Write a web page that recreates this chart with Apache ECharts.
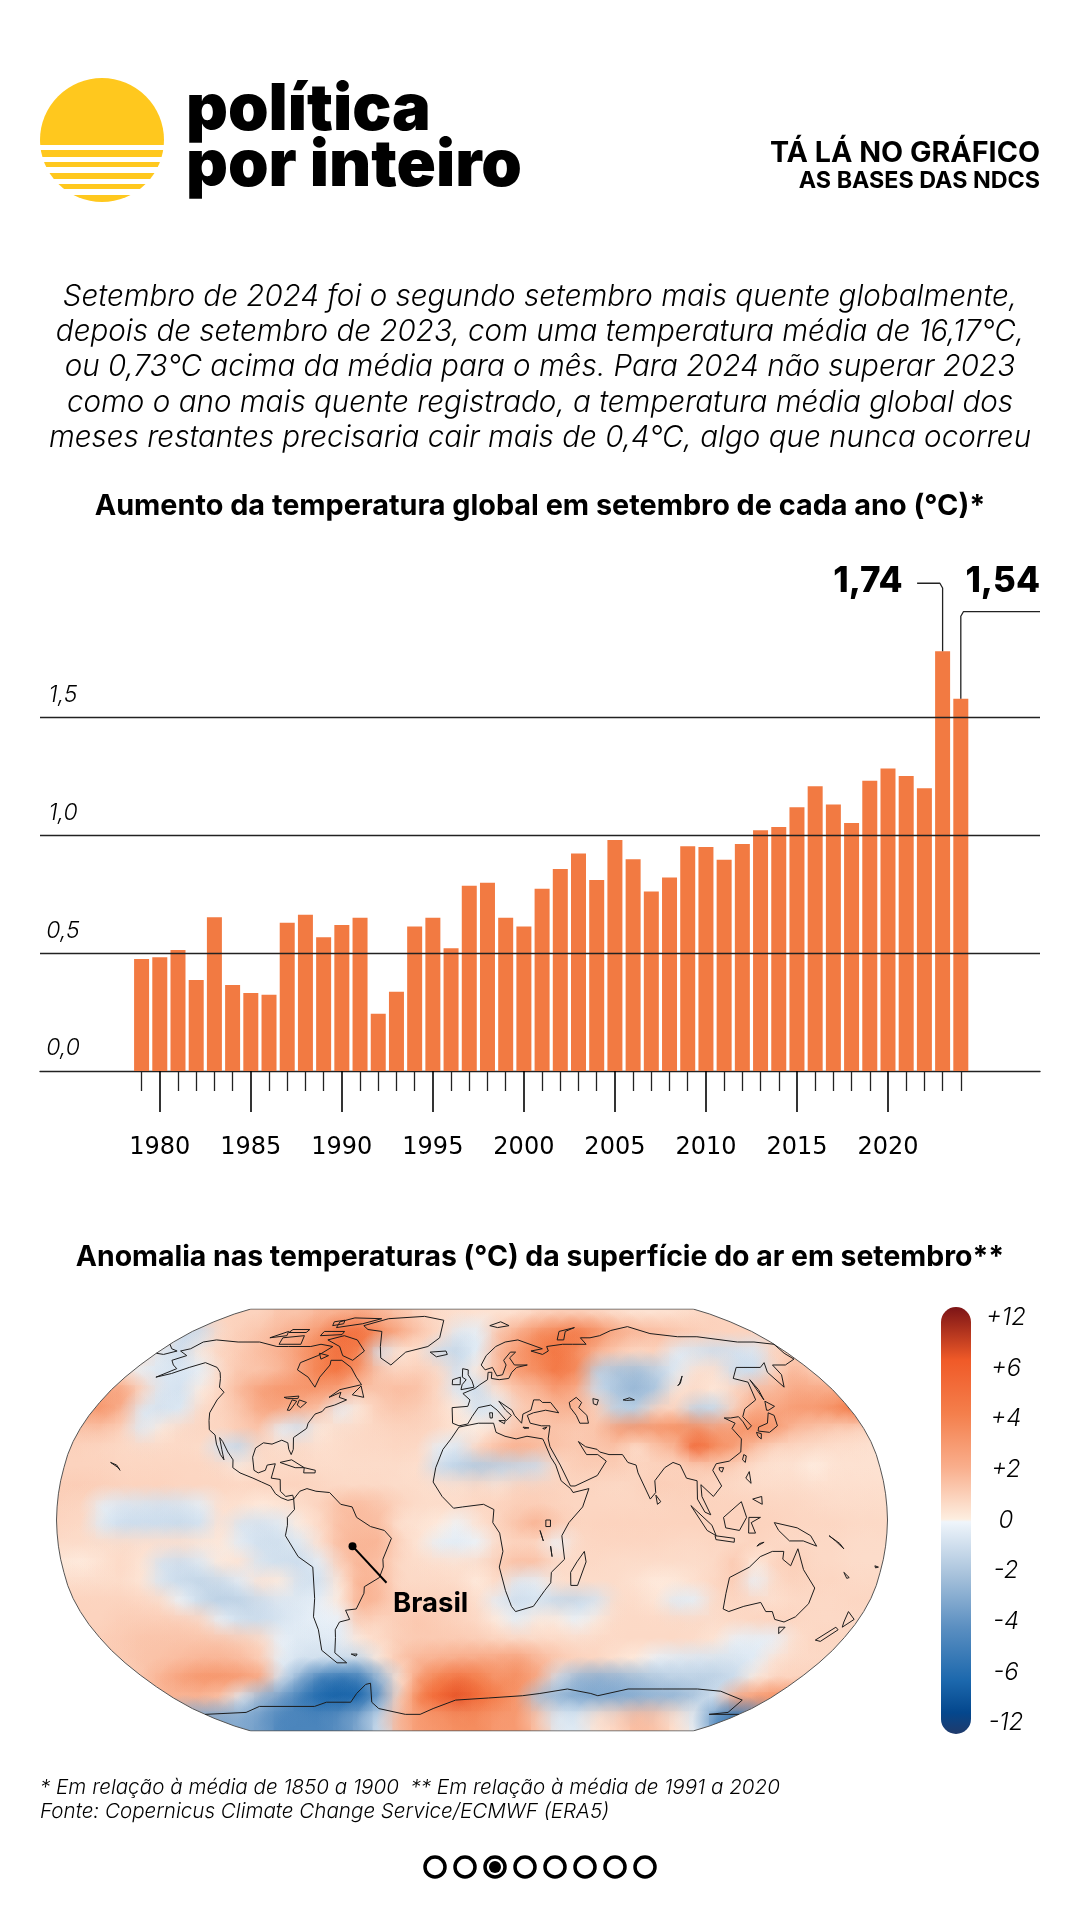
<!DOCTYPE html>
<html><head><meta charset="utf-8">
<style>html,body{margin:0;padding:0;background:#fff}#c{width:1080px;height:1920px}</style>
<script src="https://cdn.jsdelivr.net/npm/echarts@6/dist/echarts.min.js"></script>
</head><body><div id="c"></div>
<script>
// ---------- DATA ----------
const years = [1979,1980,1981,1982,1983,1984,1985,1986,1987,1988,1989,1990,1991,1992,1993,1994,1995,1996,1997,1998,1999,2000,2001,2002,2003,2004,2005,2006,2007,2008,2009,2010,2011,2012,2013,2014,2015,2016,2017,2018,2019,2020,2021,2022,2023,2024];
const anomalies = [.475,.483,.514,.386,.653,.365,.331,.324,.629,.663,.568,.620,.650,.243,.336,.613,.650,.521,.786,.799,.650,.613,.773,.857,.923,.811,.980,.899,.762,.821,.954,.951,.897,.963,1.022,1.036,1.119,1.209,1.131,1.053,1.232,1.284,1.252,1.200,1.782,1.580];
const yTicks = [0,0.5,1,1.5];
const highlightLabels = ['1,74','1,54'];
const headerLines = ['TÁ LÁ NO GRÁFICO','AS BASES DAS NDCS'];
const logoLines = ['política','por inteiro'];
const bodyLines = ['Setembro de 2024 foi o segundo setembro mais quente globalmente,','depois de setembro de 2023, com uma temperatura média de 16,17°C,','ou 0,73°C acima da média para o mês. Para 2024 não superar 2023','como o ano mais quente registrado, a temperatura média global dos','meses restantes precisaria cair mais de 0,4°C, algo que nunca ocorreu'];
const chartTitle = 'Aumento da temperatura global em setembro de cada ano (°C)*';
const mapTitle = 'Anomalia nas temperaturas (°C) da superfície do ar em setembro**';
const footLines = ['* Em relação à média de 1850 a 1900  ** Em relação à média de 1991 a 2020','Fonte: Copernicus Climate Change Service/ECMWF (ERA5)'];
const legendLabels = ['+12','+6','+4','+2','0','-2','-4','-6','-12'];
const callout2023 = [[2021.6,2.07],[2022.85,2.07],[2023,2.05],[2023,1.782]];
const callout2024 = [[2028.35,1.95],[2024.15,1.95],[2024,1.93],[2024,1.58]];
const colorValues = [-12,-9,-6,-4,-2,-0.001,0.001,2,4,6,9,12];
const colorStops = ['#1f3a6b','#04478d','#1c68ad','#5b8fc1','#a9c3dc','#eff5fb','#fef1e6','#f9b596','#f47f4c','#f05a28','#b02a20','#7c1416'];
// anomaly field, 42 columns x 22 rows, north to south
const row0=[1,1,1,1,1,1,1,1,1,1,1,1.5,1.5,2,2.2,2.5,2,1.5,1,.7,.6,.5,.5,.6,1,1.2,1.2,1,.7,.5,.5,.6,.8,1,1,1,1,1,1,1,1,1];
const row1=[.8,.8,.8,.8,.8,.8,-1,-1,.8,1.2,1.5,2,2.5,3.2,4.8,5,3.5,2.5,1.5,.8,-.5,-.3,1.5,2.5,3.5,4,4.5,3.5,2.5,2,1.8,1.5,1.2,1,1,1,1,1,1,1,1,1];
const row2=[.5,.5,.5,.5,.8,-.5,-1,.3,1,1.3,1.8,2.2,3,4,4.8,3.8,-.8,.4,.6,-1,-1.2,-.3,2,3,4,4.5,3.5,2,1.2,.8,1,-.4,-.7,-1,-.8,-.6,1,1.2,1,1,1,1];
const row3=[.5,.5,.5,.3,-.3,-.6,-.6,-.3,.8,1.5,1.5,2,2.8,4,4.5,3,1.5,1,1.2,.8,-.8,.3,2,3,3.5,4.5,3.5,-1.5,-2,-2.2,-1.5,-.5,.6,.6,-1,-1,1,2,1.2,1,1,1];
const row4=[1,1.5,2.5,2.8,1,-.6,-.8,.2,1,2,2.8,3.2,3.2,3,2.5,1.5,1.5,1.8,1.6,.8,-.6,-1,.5,1.5,2,3,2.2,-1,-2,-2.5,-1.8,.5,.8,.3,1,1.8,2,2.5,2.5,2.5,3,3];
const row5=[2,3,3.2,2,-.5,-.8,-.5,.8,1,1.5,2.5,2.5,2,1.5,-.3,.3,1.2,1.4,1.2,.8,.2,-.8,-.5,1.2,1.5,2,2,1.2,-1.5,-1.5,1,1,-1.5,-1.2,1.2,2.5,2.5,3,3,3.5,4.5,4.5];
const row6=[1.5,1.5,1.5,1,-.5,.3,.8,.9,.9,1.3,1.5,-.3,-.8,.3,.7,.8,.9,1,1,.8,.4,.1,.8,1.5,1.5,1.5,1.3,1.5,2.8,3.2,3.2,3.5,3.5,2.8,3,3.5,3,1.8,1.5,1.2,1,.8];
const row7=[1,1,.9,.8,.8,.8,.8,.7,-.8,-1.2,.8,.7,.8,.6,.7,.8,.8,.9,.8,-.3,-.6,1,1.8,2.2,1.8,1.5,1.3,1.5,1.5,.5,1.5,2,5.5,3.5,2.8,1.5,.8,.8,.7,.6,.6,.5];
const row8=[1,1,1,.9,.9,.9,.9,.9,.8,.3,.8,.8,.8,.7,.7,.7,.7,.7,.6,-1,-1.5,-1.8,-1.5,-1.2,-1,.8,1.2,1.2,1.2,1,1,1,1.2,1.2,1,.6,.5,.5,.1,.5,.5,.5];
const row9=[1.2,1.2,1.1,1,1,1,.9,.9,.9,.9,.9,1,1,.9,.8,.8,.8,.7,.7,.6,.6,.8,.5,1,1,1,.9,.9,.8,.9,1.2,1.1,1.1,.9,.8,.7,.7,.7,.6,.6,.6,.6];
const row10=[1,.9,-.3,-.6,-.7,-.8,-.7,-.3,.6,.5,.2,.4,.7,1,1.7,1.8,1.5,1,.7,.7,.7,.9,1,1.2,1.2,1,.9,.9,.9,.9,.9,1,1,1,1,1,.9,.9,.8,.7,.7,.7];
const row11=[.9,.8,-.5,-1,-1,-1,-1.1,-.8,.5,-.7,-.8,-.5,.2,.8,1.7,1.8,1.7,.5,.5,.2,-.1,.5,1,1.6,2.2,1.3,.9,1,1,1,1,1,1,1,1,1,1,.9,.9,.9,.8,.8];
const row12=[.7,.7,.7,.7,.6,.6,.6,.4,.3,-.4,-.9,-.9,-.5,.6,1.8,2,2,1,.4,-.3,-.4,-.1,.8,1,.8,-.1,.8,.9,.9,.9,.9,.8,.8,.9,.8,1,.8,.8,.8,.8,.7,.7];
const row13=[.3,.2,.5,.8,.4,-.8,-1,-.5,.3,.5,-.7,-.9,-1,-.3,1.2,2,1.6,.8,.7,.6,.5,.7,1.2,1.7,1.6,.8,.8,.8,.7,.7,.7,.7,.7,.8,1.4,.2,1,1.2,.8,.8,.7,.7];
const row14=[.7,.7,.7,.7,.4,-.7,-1.1,-1.3,-1.1,-.4,.5,.2,-.8,-.8,.4,2.2,1.8,.8,.8,.8,.7,.2,.8,-.5,-.3,.6,.7,.7,.7,.5,.2,.3,.6,.9,1.2,-.2,.8,1,.9,.9,.8,.8];
const row15=[1,1,1,1,.9,.7,-.1,-1.1,-1.5,-1.4,-1,-.6,-.5,-.2,.3,2.2,1.8,1,1,1,1,.6,-.4,-1,-.7,-1.2,-1.2,-.7,.7,.7,.4,-.5,-.3,.8,.9,.8,.6,.8,.8,.8,.9,.9];
const row16=[1,1,1,1.2,1.2,1.2,1.2,.9,-.2,-.9,-1,-.7,-.4,-.2,-.2,1.3,.9,1.2,1.4,1.2,1,.8,.2,-.3,.3,.2,-.1,.3,.8,.8,.8,.8,.8,.7,.8,.9,1,.9,.8,.8,.8,.8];
const row17=[1,1,1.2,1.3,1.5,1.5,1.5,1.5,1.5,1.2,.8,-.2,-.5,-.5,-.4,.3,.8,1.2,1.3,1.3,1.3,1.2,1,.9,.8,.8,.7,.8,.8,.8,.8,.8,.7,.4,-.2,-.3,-.2,.6,.9,.9,.9,.9];
const row18=[1,1,1.2,1.3,1.5,1.6,1.8,2,2,1.8,1.2,-.3,-.8,-.9,-1,-1.2,.3,1.5,2,2.2,2.4,2.5,2.6,2.8,2,1.4,1,.9,.5,.2,-.2,-.5,-.6,-.7,-.7,-.4,.5,.8,.8,.8,.8,.8];
const row19=[1,1,1,1,1.5,2.2,2.8,3.2,3.2,3,2.5,-.8,-3,-5,-5.5,-5,-2.5,.5,3,4,4.8,4,3.2,3.5,2.5,-1,-2.5,-2.8,-2.6,-2.2,-1.8,-1.5,-1.5,-1.5,-1,.3,1,1,1,1,1,1];
const row20=[1,1,1,1,1.5,2,2,2,1.5,-.5,-2.5,-3.5,-5,-6,-6.5,-6,-3.5,1,4,5.5,6.5,5,4,3,-2,-2.5,-3,-3,-3,-2.8,-2.5,-2.5,-1.8,-.8,2.5,3,3.5,3,3,3,3,3];
const row21=[-3,-3,-3,-3,-3,-3,-3,-3,-3,-3,-3.5,-4.5,-4.5,-4.5,-4,-3,-1,2,3,3.2,3.5,3.5,3,3,1.5,-.5,-.5,.5,1,1.8,1.5,.5,-.5,-4,-5.5,-4,1,1,1,1,1,1];
const anomalyRows=[row0,row1,row2,row3,row4,row5,row6,row7,row8,row9,row10,row11,row12,row13,row14,row15,row16,row17,row18,row19,row20,row21];
// coastlines as [lon,lat]
const coastNorthAmerica=[[-168,66],[-164,67],[-162,70],[-156,71],[-141,70],[-128,70],[-115,68],[-108,68],[-95,68],[-90,69],[-82,68],[-87,64],[-94,61],[-93,58],[-85,55],[-82,53],[-79,51],[-79,55],[-77,60],[-78,62],[-72,62],[-65,59],[-60,55],[-56,52],[-66,50],[-70,47],[-65,49],[-65,47],[-61,46],[-66,44],[-70,43],[-71,41.5],[-74,40.5],[-76,37],[-76,35],[-81,31.5],[-80,27],[-80.5,25],[-82,27],[-83,29.5],[-86,30.5],[-90,29],[-94,29.5],[-97,27.5],[-97.5,24],[-96,19],[-94,18],[-91,19],[-90.5,21],[-87,21.5],[-88,16],[-84,15.5],[-83.5,11],[-81,9],[-78,9.5],[-77.5,8],[-80,7.5],[-83,8.5],[-85.5,10],[-88,13],[-92,14.5],[-96,16],[-102,18],[-105.5,20],[-106,23],[-109,26],[-112.5,30],[-114.5,31.5],[-112,27],[-110,23],[-112,25],[-115,29],[-117,32.5],[-120.5,34.5],[-122.5,38],[-124,41],[-124,46],[-123,49],[-127,51],[-130,54.5],[-133,57],[-137,59],[-146,61],[-152,59],[-158,56.5],[-164,55],[-158,58.5],[-162,60],[-166,62],[-161,64],[-168,66]];
const coastSouthAmerica=[[-77.5,8],[-75,11],[-72,12],[-68,11],[-62,10.5],[-57,6],[-52,5],[-50,1],[-44,-2.5],[-38,-4],[-35,-7],[-39,-15],[-39,-18],[-41,-22],[-48,-25.5],[-48.5,-28],[-53,-34],[-58,-34.5],[-57,-38],[-62,-39],[-65,-42],[-66,-45],[-69,-51],[-65,-55],[-70,-55],[-75,-50],[-73,-42],[-73.5,-37],[-71,-30],[-70,-18],[-76,-14],[-81,-6],[-80,-2],[-80,1],[-77,4],[-77.5,8]];
const coastAfrica=[[-6,35.5],[3,37],[10,37],[11,33.5],[15,32],[20,31],[25,32],[32,31],[32.5,30],[35,24],[37,21],[39,15],[43,12],[44,10.5],[51,12],[48,5],[42,-1],[39,-6],[40.5,-15],[35,-20],[35,-24],[32.5,-27],[28,-33],[20,-35],[18,-33],[15,-27],[12,-18],[13.5,-12],[12,-5],[9,-1],[9.5,4],[5,6],[-4,5],[-8,4.5],[-13,9],[-17,14.5],[-16,20],[-13,27],[-9.5,31],[-6,35.5]];
const coastEurasia=[[-6,36],[-9,37],[-9.5,43],[-2,43.5],[-1,46],[-4.5,48.5],[1.5,50.5],[4,52],[8,54],[8.5,57],[10.5,57],[10,54.5],[14,54],[19,54.5],[21,57],[24,59],[30,60],[23,60],[21,63],[25,65.5],[22,65.5],[17.5,62],[18.5,60],[16,56],[13,55.5],[11,59],[7,58],[5,60],[8,64],[14,68],[20,70],[28,71],[41,67],[34,66],[40,64.5],[44,66],[44,68],[54,69],[60,69],[68,69],[67,72],[73,72],[80,73],[90,75.5],[104,77.5],[113,74],[128,72.5],[140,72.5],[160,70],[170,70],[180,69],[178,65],[179,62.5],[170,60],[163,60],[162,56],[157,51],[156,57],[160,61],[155,59],[142,59],[135,54.5],[141,53],[138,46],[130,42.5],[127,39.5],[129,36],[126.5,34.5],[126,37.5],[125,39.5],[121,39],[118,39],[122,37],[119.5,35],[122,31],[120,26],[114,22.5],[108,21.5],[106,19],[109,13],[105,9],[100,13.5],[100,9],[103.5,2],[101,3],[98,8],[98.5,15],[94,16],[92,21],[89,22],[85,20],[80,15],[80,10.5],[77.5,8],[73,18],[72.5,21],[69,22],[67,25],[61,25],[57,26],[56,27],[51,28],[48,30],[51,25],[56,25],[59.5,22.5],[55,17],[45,13],[43,13],[39,21],[35,28],[34.5,31],[36,36],[32,36],[27,37],[26,40],[29,41],[35,42],[41,41],[38,45],[34,45],[33,46],[30,46],[28,42],[24,40.5],[23,37],[20,40],[19,42],[13,45.5],[16,42],[18.5,40],[16,38],[12,42],[9,44],[3,43],[0,39.5],[-2,36.7],[-6,36]];
const coastChukotka=[[-180,69],[-175,67],[-170,66],[-175,64.5],[-180,65]];
const coastCaspian=[[47,45],[51,47],[53,45],[51,43],[54,40],[54,37],[50,37],[49,40],[47,43],[47,45]];
const coastGreenland=[[-73,78],[-60,82],[-35,83.5],[-20,81],[-20,72],[-26,68],[-38,65.5],[-44,60],[-51,63],[-54,68],[-58,75],[-68,76],[-73,78]];
const coastBaffin=[[-80,73],[-70,71],[-62,66],[-66,62],[-73,64],[-78,68],[-88,71],[-80,73]];
const coastVictoria=[[-117,72],[-105,73],[-102,69],[-115,69],[-117,72]];
const coastBanks=[[-125,72],[-118,75],[-116,73],[-125,72]];
const coastEllesmere=[[-90,77],[-75,79],[-65,82],[-85,82.5],[-92,80],[-90,77]];
const coastDevon=[[-95,75],[-82,75],[-82,73.5],[-95,73],[-95,75]];
const coastMelville=[[-117,76],[-106,76],[-106,74.5],[-117,74.5],[-117,76]];
const coastAxelHeiberg=[[-96,80],[-90,81],[-88,79],[-94,78],[-96,80]];
const coastSouthampton=[[-87,65],[-81,64],[-84,62.5],[-87,65]];
const coastNewfoundland=[[-59,48],[-56,51.5],[-53,47],[-59,48]];
const coastCuba=[[-85,22],[-80,23],[-74,20],[-78,20],[-85,22]];
const coastHispaniola=[[-74,20],[-69,19],[-69,18],[-74,18],[-74,20]];
const coastIceland=[[-24,65.5],[-15,66],[-14,64.5],[-20,63.5],[-24,65.5]];
const coastBritain=[[-5.5,50],[1,51],[0,53.5],[-2,56],[-2,58],[-5,58.5],[-5,55],[-3,54],[-5,52],[-5.5,50]];
const coastIreland=[[-10,52],[-6,52],[-6,55],[-10,54],[-10,52]];
const coastSvalbard=[[12,78],[20,80],[25,78],[17,77],[12,78]];
const coastNovaya=[[52,71],[56,75],[68,77],[60,75],[56,71],[52,71]];
const coastHonshu=[[131,34],[136,33.5],[141,36],[142,40],[140,41],[137,37],[132,35.5],[131,34]];
const coastHokkaido=[[140,42],[142,45.5],[145,43.5],[141,42],[140,42]];
const coastKyushu=[[130,33.5],[132,33],[131,31],[130,32],[130,33.5]];
const coastSakhalin=[[142,46],[143,50],[143,54],[142,54],[142,46]];
const coastTaiwan=[[121,25],[122,24.5],[121,22],[120,23],[121,25]];
const coastHainan=[[109,20],[111,20],[110,18.3],[109,19],[109,20]];
const coastLuzon=[[120,16],[122,18.5],[122,14],[120,16]];
const coastMindanao=[[122,8],[126,9],[126,6],[122,8]];
const coastSumatra=[[95,5.5],[104,-2],[106,-6],[102,-4],[95,5.5]];
const coastJava=[[105.5,-6],[114,-7],[114,-8.5],[106,-7.5],[105.5,-6]];
const coastTimor=[[124,-10],[127,-8.5],[125,-9],[124,-10]];
const coastBorneo=[[109,1],[117,7],[119,1],[116,-4],[110,-3],[109,1]];
const coastSulawesi=[[120,1],[125,1],[121,-1],[123,-5],[120,-5],[120,1]];
const coastNewGuinea=[[131,-1],[141,-3],[147,-6],[150,-10],[144,-8],[138,-8],[133,-4],[131,-1]];
const coastSolomon=[[155,-6],[160,-9],[162,-11],[158,-8],[155,-6]];
const coastCaledonia=[[164,-20],[167,-22],[166,-22.3],[164,-20]];
const coastFiji=[[177,-17.5],[178.7,-18],[177.5,-18.3],[177,-17.5]];
const coastSriLanka=[[80,9.5],[82,7],[80.5,6],[80,9.5]];
const coastMadagascar=[[49,-12],[50,-16],[47,-25],[44,-25],[43.5,-20],[46,-16],[49,-12]];
const coastAustralia=[[114,-22],[122,-18],[126,-14],[131,-12],[136,-12],[136,-15],[140,-17.5],[142,-11],[146,-19],[153,-26],[153,-32],[150,-37],[146,-39],[141,-38],[138,-35],[135,-35],[131,-31.5],[124,-33],[118,-35],[115,-34],[114,-28],[114,-22]];
const coastTasmania=[[145,-41],[148,-41],[147,-43.5],[145,-41]];
const coastNZNorth=[[173,-35],[178,-38],[175,-41],[174,-39],[173,-35]];
const coastNZSouth=[[172,-41],[174,-42],[170,-46.5],[167,-46],[172,-41]];
const coastFalklands=[[-61,-51.5],[-58,-51.5],[-59,-52.3],[-61,-51.5]];
const coastAntarctica=[[-180,-78],[-150,-77],[-135,-74],[-120,-74],[-100,-74],[-90,-72],[-75,-72],[-68,-68],[-60,-64],[-57,-63.5],[-62,-72],[-60,-75],[-45,-78],[-35,-78],[-25,-75],[-10,-71],[10,-70],[30,-69],[40,-68],[55,-66],[70,-68],[75,-69],[90,-66],[110,-66],[130,-66],[145,-67],[165,-71],[170,-77],[160,-78],[180,-78]];
const coastSuperior=[[-92,47],[-85,47.5],[-85,46.5],[-90,46.5],[-92,47]];
const coastMichigan=[[-87.5,46],[-85,45.5],[-86.5,42],[-87.8,42],[-87.5,46]];
const coastHuron=[[-84,46],[-80,45],[-82,43],[-84,44],[-84,46]];
const coastAral=[[59,46.5],[61.5,46],[60,44],[58.5,44.5],[59,46.5]];
const coastBalkhash=[[73.5,46],[77,46.8],[79,46],[75,45.8],[73.5,46]];
const coastBaikal=[[104,51.7],[106,52.5],[109.5,55.5],[109,55],[105,52],[104,51.7]];
const coastVictoriaLake=[[32,0],[34,0],[34,-2.5],[32,-2.5],[32,0]];
const coastTanganyika=[[29.5,-4],[30,-4],[31,-8],[30.5,-8],[29.5,-4]];
const coastMalawi=[[34.2,-10],[34.8,-10],[35,-14],[34.4,-14],[34.2,-10]];
const coastHawaii=[[-160,22],[-157,21],[-155,19],[-156,20],[-160,22]];
const coastSardinia=[[8.3,41],[9.7,41],[9.5,39],[8.5,39],[8.3,41]];
const coastSicily=[[12.5,38],[15.5,38],[15,36.8],[12.5,38]];
const coastCrete=[[23.5,35.5],[26.2,35.2],[24,35],[23.5,35.5]];
const coastCyprus=[[32.5,35],[34.5,35.5],[33.5,34.7],[32.5,35]];
const coastRings=[coastNorthAmerica,coastSouthAmerica,coastAfrica,coastEurasia,coastChukotka,coastCaspian,coastGreenland,coastBaffin,coastVictoria,coastBanks,coastEllesmere,coastDevon,coastMelville,coastAxelHeiberg,coastSouthampton,coastNewfoundland,coastCuba,coastHispaniola,coastIceland,coastBritain,coastIreland,coastSvalbard,coastNovaya,coastHonshu,coastHokkaido,coastKyushu,coastSakhalin,coastTaiwan,coastHainan,coastLuzon,coastMindanao,coastSumatra,coastJava,coastTimor,coastBorneo,coastSulawesi,coastNewGuinea,coastSolomon,coastCaledonia,coastFiji,coastSriLanka,coastMadagascar,coastAustralia,coastTasmania,coastNZNorth,coastNZSouth,coastFalklands,coastAntarctica,coastSuperior,coastMichigan,coastHuron,coastAral,coastBalkhash,coastBaikal,coastVictoriaLake,coastTanganyika,coastMalawi,coastHawaii,coastSardinia,coastSicily,coastCrete,coastCyprus];
const brasilLeader=[[-52,-10],[-38,-24]];
const brasilLabel='Brasil';
const pageCount=8, pageActive=2;
// Robinson projection table (5 degree steps)
const robX=[1,.9986,.9954,.99,.9822,.973,.96,.9427,.9216,.8962,.8679,.835,.7986,.7597,.7186,.6732,.6213,.5722,.5322];
const robY=[0,.062,.124,.186,.248,.31,.372,.434,.4958,.5571,.6176,.6769,.7346,.7903,.8435,.8936,.9394,.9761,1];
// ---------- HELPERS ----------
function project(lon,lat){
  const a=Math.min(Math.abs(lat)/5,17.999), i=Math.floor(a), f=a-i;
  const px=robX[i]+(robX[i+1]-robX[i])*f, py=robY[i]+(robY[i+1]-robY[i])*f;
  return [px*lon/180, (lat<0?-1:1)*py];
}
function hex(c){return [parseInt(c.slice(1,3),16),parseInt(c.slice(3,5),16),parseInt(c.slice(5,7),16)];}
function colorOf(v){
  v=Math.max(-12,Math.min(12,v));
  let i=0; while(i<colorValues.length-2&&v>colorValues[i+1])i++;
  const f=(v-colorValues[i])/(colorValues[i+1]-colorValues[i]);
  const a=hex(colorStops[i]),b=hex(colorStops[i+1]);
  return [0,1,2].map(k=>Math.round(a[k]+(b[k]-a[k])*f));
}
const rgba=(c,al)=>`rgba(${c[0]},${c[1]},${c[2]},${al})`;
const FONT='Inter';
const BAR_GRID={left:40,width:1000,top:576.2,height:494.8};
const xMin=1973.42,xMax=2028.35;
const MAP={left:56.5,width:831,top:1309,height:422};

const nRows=anomalyRows.length,nCols=anomalyRows[0].length;
const cellData=[];
anomalyRows.forEach((row,r)=>row.forEach((v,c)=>{cellData.push([-1+(c+.5)*2/nCols,1-(r+.5)*2/nRows,v]);}));
const boundary=[];
for(let lat=-90;lat<=90;lat+=5)boundary.push(project(180,lat));
for(let lat=90;lat>=-90;lat-=5)boundary.push(project(-180,lat));
boundary.push(boundary[0]);

// graphic elements
const g=[];
function txt(x,y,text,font,align,fill){g.push({type:'text',x,y,silent:true,z:20,style:{text,font,fill:fill||'#000',align:align||'left',verticalAlign:'middle'}});}
g.push({type:'circle',shape:{cx:102,cy:140,r:62},style:{fill:'#ffc81e'},silent:true,z:10});
[[145,5],[157,5],[167,6],[179,5],[189,6]].forEach(s=>g.push({type:'rect',shape:{x:38,y:s[0],width:130,height:s[1]},style:{fill:'#fff'},silent:true,z:11}));
txt(186,110,logoLines[0],'900 65px '+FONT);
txt(186,166,logoLines[1],'900 65px '+FONT);
txt(1040,153,headerLines[0],'700 28.7px '+FONT,'right');
txt(1040,181,headerLines[1],'700 23.3px '+FONT,'right');
bodyLines.forEach((l,i)=>txt(540,297+i*35.2,l,'italic 300 29.6px '+FONT,'center'));
txt(540,506,chartTitle,'700 28.8px '+FONT,'center');
txt(540,1257,mapTitle,'700 28.4px '+FONT,'center');
footLines.forEach((l,i)=>txt(40,1788+i*24,l,'italic 300 20.6px '+FONT));
for(let i=0;i<pageCount;i++){
  const cx=435+i*30;
  g.push({type:'circle',shape:{cx,cy:1867,r:10},style:{fill:'#fff',stroke:'#000',lineWidth:3.5},silent:true,z:10});
  if(i===pageActive)g.push({type:'circle',shape:{cx,cy:1867,r:6},style:{fill:'#000'},silent:true,z:11});
}
g.push({type:'text',x:393,y:1604,silent:true,z:20,style:{text:brasilLabel,font:'700 27.5px '+FONT,fill:'#000',verticalAlign:'middle'}});

const gradientStops=[
 {offset:0,color:'#7c1416'},{offset:.0,color:'#7c1416'},
 {offset:.125,color:'#f05a28'},{offset:.25,color:'#f47f4c'},{offset:.375,color:'#f9ae8c'},{offset:.497,color:'#fdeee0'},
 {offset:.503,color:'#eff5fb'},{offset:.625,color:'#a9c3dc'},{offset:.75,color:'#5b8fc1'},{offset:.875,color:'#1c68ad'},{offset:.95,color:'#04478d'},{offset:1,color:'#1f3a6b'}];

const series=[
 {type:'bar',xAxisIndex:0,yAxisIndex:0,z:1,barWidth:15,data:years.map((y,i)=>[y,anomalies[i]]),itemStyle:{color:'#f27a42'},animation:false,
  markLine:{silent:true,symbol:'none',z:5,animation:false,label:{show:false},lineStyle:{color:'#222',width:1.4,type:'solid'},data:yTicks.filter(v=>v>0).map(v=>({yAxis:v}))}},
 {type:'line',xAxisIndex:0,yAxisIndex:0,z:4,data:callout2023,symbol:'none',lineStyle:{color:'#222',width:1.3},animation:false,silent:true},
 {type:'line',xAxisIndex:0,yAxisIndex:0,z:4,data:callout2024,symbol:'none',lineStyle:{color:'#222',width:1.3},animation:false,silent:true},
 {type:'custom',xAxisIndex:0,yAxisIndex:0,z:6,silent:true,animation:false,data:[[2020.8,2.07,0],[2028.35,2.07,1]],encode:{x:0,y:1},clip:false,
  renderItem:(p,api)=>{const i=api.value(2);const pt=api.coord([api.value(0),api.value(1)]);
   return {type:'text',x:pt[0],y:pt[1]-2,style:{text:highlightLabels[i],font:'800 35px '+FONT,fill:'#000',align:'right',verticalAlign:'middle'}};}},
 // map: base cells
 {type:'custom',xAxisIndex:2,yAxisIndex:1,z:1,silent:true,animation:false,progressive:0,data:cellData,encode:{x:0,y:1},
  renderItem:(p,api)=>{const x=api.value(0),y=api.value(1),dx=1/nCols,dy=1/nRows;
   const a=api.coord([x-dx,y+dy]),b=api.coord([x+dx,y-dy]);
   return {type:'rect',shape:{x:a[0]-.5,y:a[1]-.5,width:b[0]-a[0]+1,height:b[1]-a[1]+1},style:{fill:rgba(colorOf(api.value(2)),1)}};}},
 // map: soft edge of the same cells
 {type:'custom',xAxisIndex:2,yAxisIndex:1,z:2,silent:true,animation:false,progressive:0,data:cellData,encode:{x:0,y:1},
  renderItem:(p,api)=>{const c=api.coord([api.value(0),api.value(1)]),col=colorOf(api.value(2));
   return {type:'circle',shape:{cx:c[0],cy:c[1],r:27},style:{fill:new echarts.graphic.RadialGradient(.5,.5,.5,[{offset:0,color:rgba(col,.85)},{offset:.35,color:rgba(col,.6)},{offset:1,color:rgba(col,0)}])}};}},
 // map mask and outline
 {type:'custom',xAxisIndex:2,yAxisIndex:1,z:3,silent:true,animation:false,data:[[0,0]],encode:{x:0,y:1},
  renderItem:(p,api)=>{
   const pts=boundary.map(b=>api.coord(b));const cs=p.coordSys,m=30;
   const x0=cs.x-m,x1=cs.x+cs.width+m,y0=cs.y-m,y1=cs.y+cs.height+m;
   const ym=pts[0][1];
   return {type:'polygon',shape:{points:[...pts,pts[0],[x1,ym],[x1,y1],[x0,y1],[x0,y0],[x1,y0],[x1,ym]]},style:{fill:'#fff'}};}},
 {type:'line',xAxisIndex:2,yAxisIndex:1,z:4,data:boundary,symbol:'none',lineStyle:{color:'#555',width:1},animation:false,silent:true},
];
coastRings.forEach(r=>series.push({type:'line',xAxisIndex:2,yAxisIndex:1,z:5,data:r.map(p=>project(p[0],p[1])),symbol:'none',lineStyle:{color:'#1c1c1c',width:1},animation:false,silent:true}));
series.push({type:'line',xAxisIndex:2,yAxisIndex:1,z:6,data:brasilLeader.map(p=>project(p[0],p[1])),showSymbol:true,symbol:(v,params)=>params.dataIndex===0?'circle':'none',symbolSize:8,itemStyle:{color:'#000'},lineStyle:{color:'#000',width:2},animation:false,silent:true});
// colour bar
series.push({type:'custom',xAxisIndex:3,yAxisIndex:2,silent:true,animation:false,data:[[0,0]],encode:{x:0,y:1},clip:false,
 renderItem:(p)=>{const c=p.coordSys;
  return {type:'rect',shape:{x:c.x,y:c.y-11,width:c.width,height:c.height+22,r:15},style:{fill:new echarts.graphic.LinearGradient(0,0,0,1,gradientStops)}};}});

const chart=echarts.init(document.getElementById('c'),null,{renderer:'canvas',width:1080,height:1920});
chart.setOption({
 backgroundColor:'#fff',animation:false,tooltip:{show:false},
 grid:[
  {...BAR_GRID,containLabel:false},
  {...MAP},
  {left:941,width:30,top:1318,height:405}
 ],
 xAxis:[
  {type:'value',gridIndex:0,position:'bottom',min:xMin,max:xMax,splitLine:{show:false},
   axisLine:{show:true,onZero:false,lineStyle:{color:'#222',width:1.4}},
   axisTick:{show:true,length:20,customValues:years.filter(y=>y%5!==0),lineStyle:{color:'#222',width:1.3}},
   axisLabel:{show:false}},
  {type:'value',gridIndex:0,position:'bottom',min:xMin,max:xMax,splitLine:{show:false},
   axisLine:{show:false},
   axisTick:{show:true,length:41,customValues:years.filter(y=>y%5===0),lineStyle:{color:'#000',width:1.6}},
   axisLabel:{show:true,customValues:years.filter(y=>y%5===0),formatter:v=>String(v),margin:65,fontFamily:'DejaVu Sans',fontSize:24,color:'#000',hideOverlap:false,showMinLabel:true,showMaxLabel:true}},
  {type:'value',gridIndex:1,min:-1,max:1,show:false},
  {type:'value',gridIndex:2,min:0,max:1,show:false}
 ],
 yAxis:[
  {type:'value',gridIndex:0,min:0,max:2.1,interval:.5,axisLine:{show:false},axisTick:{show:false},splitLine:{show:false},
   axisLabel:{show:true,inside:true,customValues:yTicks,margin:23,align:'center',verticalAlign:'bottom',padding:[0,0,11,0],
    formatter:v=>v.toFixed(1).replace('.',','),fontFamily:FONT,fontStyle:'italic',fontWeight:300,fontSize:23,color:'#000'}},
  {type:'value',gridIndex:1,min:-1,max:1,show:false},
  {type:'category',gridIndex:2,inverse:true,boundaryGap:false,position:'right',data:legendLabels,axisLine:{show:false},axisTick:{show:false},splitLine:{show:false},
   axisLabel:{show:true,interval:0,margin:35,align:'center',fontFamily:FONT,fontStyle:'italic',fontWeight:300,fontSize:24,color:'#000'}}
 ],
 graphic:{elements:g},
 series
});
</script></body></html>
